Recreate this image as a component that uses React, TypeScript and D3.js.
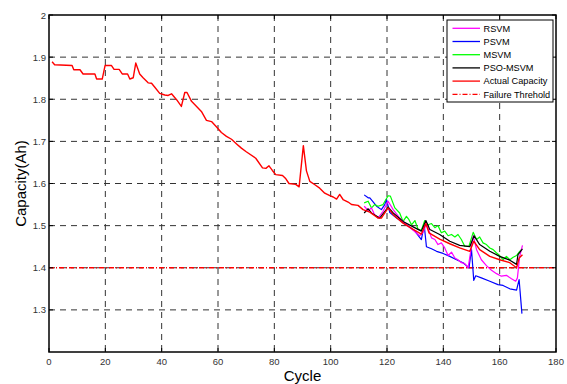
import React from 'react';
import * as d3 from 'd3';

// [cycle, capacity]
const actualCapacity: [number, number][] = [
  [1.1, 1.889], [2, 1.882], [8.2, 1.880], [8.8, 1.870], [11, 1.870], [12.1, 1.860], [16.3, 1.860],
  [16.9, 1.848], [18.9, 1.848], [19.9, 1.880], [22.2, 1.880], [23.1, 1.871], [24.9, 1.871], [26, 1.860],
  [27.9, 1.860], [28.7, 1.848], [29.9, 1.851], [30.8, 1.886], [32.2, 1.860], [33.4, 1.851], [35.2, 1.839],
  [36.4, 1.838], [37.5, 1.829], [39.3, 1.814], [41.1, 1.810], [42.3, 1.809], [43.5, 1.813], [45.3, 1.799],
  [47, 1.783], [48.2, 1.816], [49, 1.816], [50.6, 1.795], [52.4, 1.783], [54.1, 1.771], [55.9, 1.750],
  [57.7, 1.747], [59.5, 1.734], [61.2, 1.721], [63, 1.712], [64.8, 1.705], [66.6, 1.694], [68.3, 1.684],
  [69.9, 1.676], [73.4, 1.660], [75.8, 1.637], [77, 1.636], [78.1, 1.642], [79.3, 1.631], [80.5, 1.621],
  [82.9, 1.619], [84.1, 1.611], [85.2, 1.600], [87.6, 1.598], [88.8, 1.592], [90.3, 1.690], [91.4, 1.630],
  [92.6, 1.605], [94.4, 1.597], [96.1, 1.589], [97.9, 1.577], [99.7, 1.571], [100.9, 1.568], [102.1, 1.563],
  [103.2, 1.574], [104.4, 1.562], [106.2, 1.556], [107.4, 1.550], [109.7, 1.548], [111.5, 1.538],
  [113.9, 1.532], [116.8, 1.518], [118, 1.518], [120.4, 1.542], [122.2, 1.526], [125.7, 1.506],
  [129.3, 1.491], [132.2, 1.480], [133.8, 1.505], [134.9, 1.483], [138.7, 1.468], [142.3, 1.457],
  [145.8, 1.447], [149.4, 1.439], [150.8, 1.463], [152.9, 1.443], [156.5, 1.427], [160, 1.419],
  [163.6, 1.412], [166, 1.400], [166.9, 1.423], [168.1, 1.431],
];

const rsvm: [number, number][] = [
  [111.9, 1.546], [113.3, 1.536], [114.5, 1.542], [115.6, 1.526], [116.8, 1.518], [118.6, 1.534],
  [120.4, 1.558], [122.2, 1.538], [124.5, 1.518], [126.9, 1.502], [129.3, 1.489], [131.6, 1.476],
  [132.8, 1.484], [134, 1.505], [135.8, 1.471], [137, 1.467], [138.1, 1.455], [139.3, 1.459],
  [140.5, 1.447], [141.7, 1.429], [142.9, 1.437], [144.1, 1.423], [145.2, 1.419], [146.4, 1.412],
  [147.6, 1.410], [148.8, 1.400], [150.6, 1.476], [151.8, 1.443], [153.5, 1.419], [155.3, 1.405],
  [157.1, 1.394], [158.9, 1.386], [160.6, 1.380], [162.4, 1.382], [164.2, 1.374], [165.7, 1.368],
  [166.3, 1.376], [167.1, 1.427], [168.1, 1.453],
];

const psvm: [number, number][] = [
  [111.9, 1.573], [113.3, 1.566], [113.9, 1.566], [116.3, 1.546], [118, 1.538], [119.2, 1.550],
  [119.8, 1.563], [121, 1.531], [123.4, 1.518], [126.9, 1.502], [129.9, 1.487], [132.2, 1.467],
  [133.2, 1.502], [134, 1.450], [135.8, 1.445], [137.6, 1.439], [139.9, 1.434], [142.3, 1.427],
  [144.7, 1.419], [147, 1.412], [149.1, 1.400], [150, 1.443], [150.8, 1.370], [151.5, 1.381],
  [153.5, 1.376], [156.5, 1.368], [159.4, 1.360], [161.2, 1.358], [163.6, 1.350], [166, 1.347],
  [166.9, 1.372], [167.9, 1.291],
];

const msvm: [number, number][] = [
  [111.9, 1.554], [113.3, 1.558], [114.5, 1.542], [115.6, 1.550], [116.8, 1.546], [118.6, 1.550],
  [120.4, 1.571], [121.2, 1.570], [122.8, 1.542], [124.5, 1.530], [125.7, 1.510], [126.9, 1.522],
  [127.8, 1.514], [128.7, 1.502], [129.9, 1.512], [131, 1.492], [132.2, 1.489], [133.4, 1.512],
  [134.6, 1.502], [135.8, 1.505], [137, 1.495], [138.1, 1.500], [139.3, 1.483], [140.5, 1.487],
  [141.7, 1.476], [142.9, 1.479], [144.1, 1.473], [145.2, 1.479], [146.4, 1.467], [147.6, 1.451],
  [149.1, 1.451], [150.6, 1.484], [151.8, 1.467], [152.9, 1.473], [154.1, 1.459], [155.3, 1.455],
  [156.5, 1.447], [157.7, 1.443], [158.9, 1.435], [160, 1.429], [161.2, 1.419], [162.4, 1.427],
  [163.6, 1.419], [164.8, 1.425], [166, 1.429], [166.9, 1.437], [167.7, 1.443],
];

const psoMsvm: [number, number][] = [
  [111.9, 1.530], [113.3, 1.540], [114.5, 1.530], [117.4, 1.518], [120.4, 1.544], [122.2, 1.530],
  [125.7, 1.510], [129.3, 1.497], [132.2, 1.487], [133.8, 1.512], [135.2, 1.491], [138.7, 1.479],
  [142.3, 1.463], [145.8, 1.453], [149.4, 1.450], [150.9, 1.476], [152.9, 1.455], [156.5, 1.439],
  [160, 1.427], [163.6, 1.418], [166, 1.408], [166.5, 1.431], [168.1, 1.445],
];

const failureThreshold = 1.4;
const xTicks = [0, 20, 40, 60, 80, 100, 120, 140, 160, 180];
const yTicks = [1.3, 1.4, 1.5, 1.6, 1.7, 1.8, 1.9, 2];
const yGrid = [1.3, 1.4, 1.5, 1.6, 1.7, 1.8, 1.9];

const legendItems = [
  { label: 'RSVM', color: '#ff00ff', dash: '' },
  { label: 'PSVM', color: '#0000ff', dash: '' },
  { label: 'MSVM', color: '#00ff00', dash: '' },
  { label: 'PSO-MSVM', color: '#000000', dash: '' },
  { label: 'Actual Capacity', color: '#ff0000', dash: '' },
  { label: 'Failure Threhold', color: '#ff0000', dash: '5,2,1,2' },
];

export default function App() {
  const width = 567;
  const height = 384;
  const margin = { top: 15, right: 11, bottom: 32, left: 49 };
  const font = 'Arial, "Liberation Sans", sans-serif';

  const x = d3.scaleLinear().domain([0, 180]).range([margin.left, width - margin.right]);
  const y = d3.scaleLinear().domain([1.2, 2]).range([height - margin.bottom, margin.top]);

  const line = d3.line<[number, number]>()
    .x(d => x(d[0]))
    .y(d => y(d[1]));

  const series = [
    { data: actualCapacity, color: '#ff0000', w: 1.4 },
    { data: psvm, color: '#0000ff', w: 1.2 },
    { data: msvm, color: '#00ff00', w: 1.2 },
    { data: rsvm, color: '#ff00ff', w: 1.2 },
    { data: psoMsvm, color: '#000000', w: 1.2 },
  ];
  // red actual line is drawn on top of the predictions
  const drawOrder = [series[1], series[2], series[3], series[4], series[0]];

  const x0 = x(0), x1 = x(180), yTop = y(2), yBot = y(1.2);
  const lgX = 447, lgY = 20, lgW = 106, lgH = 82;

  return (
    <svg width={width} height={height} style={{ position: 'absolute', left: 0, top: 0, background: '#fff' }}>
      <rect x={0} y={0} width={width} height={height} fill="#fff" />
      {/* grid */}
      {xTicks.slice(1, -1).map(t => (
        <line key={'gx' + t} x1={x(t)} x2={x(t)} y1={yTop} y2={yBot}
          stroke="#333" strokeWidth={1} strokeDasharray="6,5" />
      ))}
      {yGrid.map(t => (
        <line key={'gy' + t} x1={x0} x2={x1} y1={y(t)} y2={y(t)}
          stroke="#333" strokeWidth={1} strokeDasharray="6,5" />
      ))}

      {/* failure threshold */}
      <line x1={x0} x2={x1} y1={y(failureThreshold)} y2={y(failureThreshold)}
        stroke="#ff0000" strokeWidth={1.5} strokeDasharray="5,2,1,2" />

      {drawOrder.map((s, i) => (
        <path key={i} d={line(s.data) || ''} fill="none" stroke={s.color}
          strokeWidth={s.w} strokeLinejoin="round" />
      ))}

      {/* frame */}
      <rect x={x0} y={yTop} width={x1 - x0} height={yBot - yTop} fill="none" stroke="#000" strokeWidth={1.5} />

      {/* ticks labels */}
      {xTicks.map(t => (
        <g key={'tx' + t}>
          <line x1={x(t)} x2={x(t)} y1={yBot} y2={yBot - 4} stroke="#000" />
          <line x1={x(t)} x2={x(t)} y1={yTop} y2={yTop + 4} stroke="#000" />
          <text x={x(t)} y={yBot + 13} textAnchor="middle" fontFamily={font} fontSize={9.5} fill="#333">{t}</text>
        </g>
      ))}
      {yTicks.map(t => (
        <g key={'ty' + t}>
          <line x1={x0} x2={x0 + 4} y1={y(t)} y2={y(t)} stroke="#000" />
          <line x1={x1} x2={x1 - 4} y1={y(t)} y2={y(t)} stroke="#000" />
          <text x={x0 - 3} y={y(t) + 3.5} textAnchor="end" fontFamily={font} fontSize={9.5} fill="#333">{d3.format('')(t)}</text>
        </g>
      ))}

      {/* axis titles */}
      <text x={(x0 + x1) / 2} y={381} textAnchor="middle" fontFamily={font} fontSize={15} fill="#000">Cycle</text>
      <text transform={`translate(26,${(yTop + yBot) / 2}) rotate(-90)`} textAnchor="middle"
        fontFamily={font} fontSize={15} fill="#000">Capacity(Ah)</text>

      {/* legend */}
      <rect x={lgX} y={lgY} width={lgW} height={lgH} fill="#fff" stroke="#000" strokeWidth={1} />
      {legendItems.map((it, i) => {
        const ly = 28.3 + i * 13.2;
        return (
          <g key={it.label}>
            <line x1={452.5} x2={480} y1={ly} y2={ly} stroke={it.color} strokeWidth={1.3}
              strokeDasharray={it.dash || undefined} />
            <text x={483.5} y={ly + 3.3} fontFamily={font} fontSize={9.2} fill="#000">{it.label}</text>
          </g>
        );
      })}
    </svg>
  );
}
